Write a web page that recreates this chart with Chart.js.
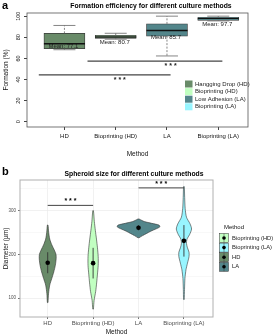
<!DOCTYPE html>
<html>
<head>
<meta charset="utf-8">
<script src="https://cdn.jsdelivr.net/npm/chart.js@4.4.0/dist/chart.umd.min.js"></script>
<style>
  html, body { margin: 0; padding: 0; background: #fff; }
  #wrap { position: relative; width: 275px; height: 336px; }
  canvas { position: absolute; left: 0; }
  #chartA { top: 0; width: 275px; height: 165px; }
  #chartB { top: 165px; width: 275px; height: 171px; }
</style>
</head>
<body>
<div id="wrap">
  <canvas id="chartA" width="275" height="165"></canvas>
  <canvas id="chartB" width="275" height="171"></canvas>
</div>
<script>
const FONT = "'Liberation Sans', Arial, sans-serif";
Chart.defaults.font.family = FONT;

const methods = ["HD", "Bioprinting (HD)", "LA", "Bioprinting (LA)"];
const colors = ["#698B69", "#C1FFC1", "#53868B", "#98F5FF"];

// panel a - box plot summary
const legendA = ["Hangging Drop (HD)", "Bioprinting (HD)", "Low Adhesion (LA)", "Bioprinting (LA)"];
const whiskerLow = [68.2, 78.2, 62.3, 95.5];
const q1 = [69.2, 79.0, 81.1, 96.0];
const median = [73.9, 80.2, 86.5, 97.5];
const q3 = [83.7, 81.8, 92.7, 99.0];
const whiskerHigh = [91.2, 83.8, 100, 100];
const meanA = [77.1, 80.7, 85.7, 97.7];
const yTicksA = [0, 20, 40, 60, 80, 100];
const sigAFrom = [0.5, 1.45];
const sigATo = [3.07, 4.08];
const sigAY = [44.3, 57.5];
const sigAStarX = [2.08, 3.07];
const sigAStarY = [40.6, 53.8];

// panel b - violin outlines (diameter, half width in category units)
const legendB = ["Bioprinting (HD)", "Bioprinting (LA)", "HD", "LA"];
const legendBColors = ["#C1FFC1", "#98F5FF", "#698B69", "#53868B"];
const violinY = [
  [90, 110, 130, 145, 160, 175, 190, 200, 210, 222, 235, 250, 267],
  [75, 95, 115, 135, 155, 175, 195, 215, 235, 255, 275, 300],
  [238, 243, 248, 253, 258, 263, 267, 271, 275, 278, 281],
  [97, 120, 145, 165, 180, 195, 205, 215, 225, 235, 245, 258, 270, 285, 305, 330, 355]
];
const violinHalfWidth = [
  [0.007, 0.018, 0.045, 0.09, 0.134, 0.168, 0.186, 0.183, 0.145, 0.09, 0.045, 0.022, 0.007],
  [0.007, 0.022, 0.056, 0.078, 0.096, 0.112, 0.112, 0.096, 0.074, 0.049, 0.027, 0.007],
  [0.011, 0.09, 0.18, 0.27, 0.38, 0.47, 0.45, 0.29, 0.13, 0.067, 0.011],
  [0.007, 0.013, 0.022, 0.045, 0.078, 0.112, 0.112, 0.078, 0.056, 0.067, 0.123, 0.168, 0.134, 0.056, 0.027, 0.016, 0.007]
];
const meanB = [181, 180, 261, 231];
const sdLow = [157, 145, 255, 195];
const sdHigh = [205, 215, 267, 267];
const yTicksB = [100, 150, 200, 250, 300, 350];
const sigBFrom = [1, 3];
const sigBTo = [2, 4];
const sigBY = [312, 352];
const sigBStarY = [324, 364];

function seg(ctx, x1, y1, x2, y2) {
  ctx.beginPath();
  ctx.moveTo(x1, y1);
  ctx.lineTo(x2, y2);
  ctx.stroke();
}

// ---------- panel a ----------
const boxPlugin = {
  id: "boxPlugin",
  afterDatasetsDraw(chart) {
    const { ctx, chartArea: a, scales: { x, y } } = chart;
    ctx.save();
    ctx.strokeStyle = "#555";
    ctx.lineWidth = 0.8;
    ctx.strokeRect(a.left, a.top, a.right - a.left, a.bottom - a.top);

    methods.forEach((m, i) => {
      const cx = x.getPixelForValue(i + 1);
      ctx.strokeStyle = "#666";
      ctx.lineWidth = 0.8;
      ctx.setLineDash([2, 1.5]);
      seg(ctx, cx, y.getPixelForValue(q3[i]), cx, y.getPixelForValue(whiskerHigh[i]));
      seg(ctx, cx, y.getPixelForValue(q1[i]), cx, y.getPixelForValue(whiskerLow[i]));
      ctx.setLineDash([]);
      seg(ctx, cx - 11, y.getPixelForValue(whiskerHigh[i]), cx + 11, y.getPixelForValue(whiskerHigh[i]));
      seg(ctx, cx - 11, y.getPixelForValue(whiskerLow[i]), cx + 11, y.getPixelForValue(whiskerLow[i]));
      ctx.strokeStyle = "#111";
      ctx.lineWidth = 1.5;
      seg(ctx, cx - 20.5, y.getPixelForValue(median[i]), cx + 20.5, y.getPixelForValue(median[i]));
    });

    // mean labels
    ctx.fillStyle = "#222";
    ctx.font = "6px " + FONT;
    ctx.textAlign = "center";
    ctx.textBaseline = "middle";
    meanA.forEach((v, i) => {
      ctx.fillText("Mean: " + v, x.getPixelForValue(i + 1) - 1, y.getPixelForValue(v) + 6);
    });

    // significance bars
    ctx.strokeStyle = "#444";
    ctx.lineWidth = 1.3;
    sigAY.forEach((v, i) => {
      seg(ctx, x.getPixelForValue(sigAFrom[i]), y.getPixelForValue(v), x.getPixelForValue(sigATo[i]), y.getPixelForValue(v));
      ctx.font = "bold 7px " + FONT;
      ctx.fillStyle = "#222";
      ctx.fillText("* * *", x.getPixelForValue(sigAStarX[i]), y.getPixelForValue(sigAStarY[i]) + 1);
    });

    // legend
    ctx.font = "6px " + FONT;
    ctx.textAlign = "left";
    legendA.forEach((t, i) => {
      const ly = 84 + i * 7.6;
      ctx.fillStyle = colors[i];
      ctx.fillRect(185, ly - 3.5, 7.5, 7);
      ctx.fillStyle = "#222";
      ctx.fillText(t, 195, ly);
    });

    // title
    ctx.font = "bold 6.8px " + FONT;
    ctx.textAlign = "center";
    ctx.fillStyle = "#000";
    ctx.fillText("Formation efficiency for different culture methods", 151, 6);
    ctx.font = "bold 11px " + FONT;
    ctx.textAlign = "left";
    ctx.fillText("a", 2, 6);
    ctx.restore();
  }
};

new Chart(document.getElementById("chartA"), {
  type: "bar",
  data: {
    datasets: [
      {
        data: methods.map((m, i) => ({ x: i + 1, y: [q1[i], q3[i]] })),
        backgroundColor: colors,
        borderColor: "#3a3a3a",
        borderWidth: 0.8,
        borderSkipped: false,
        barThickness: 41
      },
      {
        type: "scatter",
        data: meanA.map((v, i) => ({ x: i + 1, y: v })),
        pointRadius: 1.3,
        backgroundColor: "#000",
        borderWidth: 0
      }
    ]
  },
  options: {
    responsive: false,
    animation: false,
    layout: { padding: { top: 13, right: 27, left: 0, bottom: 7 } },
    plugins: { legend: { display: false }, tooltip: { enabled: false } },
    scales: {
      x: {
        type: "linear",
        offset: false,
        min: 0.27,
        max: 4.58,
        afterBuildTicks: (s) => { s.ticks = [1, 2, 3, 4].map((v) => ({ value: v })); },
        afterFit: (s) => { s.height = 31; },
        ticks: { callback: (v) => methods[v - 1], font: { size: 6 }, color: "#111", padding: 3, maxRotation: 0, autoSkip: false },
        grid: { offset: false, drawOnChartArea: false, tickLength: 3, color: "#444" },
        border: { display: false },
        title: { display: true, text: "Method", font: { size: 6.5 }, color: "#111", padding: 0 }
      },
      y: {
        min: -5,
        max: 103,
        afterBuildTicks: (s) => { s.ticks = yTicksA.map((v) => ({ value: v })); },
        afterFit: (s) => { s.width = 27; },
        ticks: { minRotation: 90, maxRotation: 90, crossAlign: "center", font: { size: 5.5 }, color: "#111", padding: 1 },
        grid: { drawOnChartArea: false, tickLength: 3, color: "#444" },
        border: { display: false },
        title: { display: true, text: "Formation (%)", font: { size: 6.5 }, color: "#111", padding: { top: 2, bottom: 0 } }
      }
    }
  },
  plugins: [boxPlugin]
});

// ---------- panel b ----------
const violinPlugin = {
  id: "violinPlugin",
  beforeDatasetsDraw(chart) {
    const { ctx, chartArea: a } = chart;
    ctx.save();
    ctx.strokeStyle = "#b0b0b0";
    ctx.lineWidth = 1;
    ctx.strokeRect(a.left, a.top, a.right - a.left, a.bottom - a.top);
    ctx.restore();
  },
  afterDatasetsDraw(chart) {
    const { ctx, scales: { x, y } } = chart;
    ctx.save();
    // mean +/- sd ranges
    ctx.strokeStyle = "#333";
    ctx.lineWidth = 0.9;
    meanB.forEach((v, i) => {
      const cx = x.getPixelForValue(i + 1);
      seg(ctx, cx, y.getPixelForValue(sdLow[i]), cx, y.getPixelForValue(sdHigh[i]));
    });
    ctx.fillStyle = "#000";
    meanB.forEach((v, i) => {
      ctx.beginPath();
      ctx.arc(x.getPixelForValue(i + 1), y.getPixelForValue(v), 2.3, 0, Math.PI * 2);
      ctx.fill();
    });

    // significance bars
    ctx.strokeStyle = "#444";
    ctx.lineWidth = 1;
    ctx.font = "bold 7px " + FONT;
    ctx.textAlign = "center";
    ctx.textBaseline = "middle";
    sigBY.forEach((v, i) => {
      seg(ctx, x.getPixelForValue(sigBFrom[i]), y.getPixelForValue(v), x.getPixelForValue(sigBTo[i]), y.getPixelForValue(v));
      ctx.fillText("* * *", x.getPixelForValue((sigBFrom[i] + sigBTo[i]) / 2), y.getPixelForValue(sigBStarY[i]) + 1);
    });

    // legend
    ctx.textAlign = "left";
    ctx.font = "6px " + FONT;
    ctx.fillStyle = "#111";
    ctx.fillText("Method", 224, 62);
    ctx.font = "5.8px " + FONT;
    legendB.forEach((t, i) => {
      const ly = 73 + i * 9.6;
      ctx.fillStyle = legendBColors[i];
      ctx.fillRect(219.5, ly - 4.5, 9, 9);
      ctx.strokeStyle = "#333";
      ctx.lineWidth = 0.5;
      ctx.strokeRect(219.5, ly - 4.5, 9, 9);
      seg(ctx, 224, ly - 4.5, 224, ly + 4.5);
      ctx.fillStyle = "#000";
      ctx.beginPath();
      ctx.arc(224, ly, 1.8, 0, Math.PI * 2);
      ctx.fill();
      ctx.fillStyle = "#222";
      ctx.fillText(t, 232, ly);
    });

    // title
    ctx.fillStyle = "#000";
    ctx.font = "bold 6.8px " + FONT;
    ctx.textAlign = "center";
    ctx.fillText("Spheroid size for different culture methods", 134, 9);
    ctx.font = "bold 11px " + FONT;
    ctx.textAlign = "left";
    ctx.fillText("b", 2, 7);
    ctx.restore();
  }
};

function violinOutline(i) {
  const cx = i + 1;
  const ys = violinY[i];
  const ws = violinHalfWidth[i];
  const pts = [];
  ys.forEach((v, k) => pts.push({ x: cx + ws[k], y: v }));
  for (let k = ys.length - 1; k >= 0; k--) pts.push({ x: cx - ws[k], y: ys[k] });
  pts.push(pts[0]);
  return pts;
}

new Chart(document.getElementById("chartB"), {
  type: "scatter",
  data: {
    datasets: methods.map((m, i) => ({
      label: m,
      data: violinOutline(i),
      showLine: true,
      fill: "shape",
      tension: 0.25,
      pointRadius: 0,
      borderColor: "#333",
      borderWidth: 0.6,
      backgroundColor: colors[i]
    }))
  },
  options: {
    responsive: false,
    animation: false,
    layout: { padding: { top: 15, right: 62, left: 0, bottom: 0 } },
    plugins: { legend: { display: false }, tooltip: { enabled: false } },
    scales: {
      x: {
        type: "linear",
        min: 0.39,
        max: 4.64,
        afterBuildTicks: (s) => { s.ticks = [1, 2, 3, 4].map((v) => ({ value: v })); },
        afterFit: (s) => { s.height = 19; },
        ticks: { callback: (v) => methods[v - 1], font: { size: 6 }, color: "#4d4d4d", padding: 1, maxRotation: 0, autoSkip: false },
        grid: { color: "#ebebeb", lineWidth: 0.7, tickLength: 2, tickColor: "#333" },
        border: { display: false },
        title: { display: true, text: "Method", font: { size: 6.5 }, color: "#111", padding: 0 }
      },
      y: {
        min: 57,
        max: 370,
        afterBuildTicks: (s) => { s.ticks = yTicksB.map((v) => ({ value: v })); },
        afterFit: (s) => { s.width = 20; },
        ticks: { callback: (v) => (v % 100 === 0 ? v : ""), font: { size: 4.5 }, color: "#4d4d4d", padding: 2 },
        grid: {
          color: (c) => (c.tick && c.tick.value % 100 === 0 ? "#ebebeb" : "#f5f5f5"),
          tickColor: (c) => (c.tick && c.tick.value % 100 === 0 ? "#333" : "rgba(0,0,0,0)"),
          lineWidth: 0.7,
          tickLength: 2
        },
        border: { display: false },
        title: { display: true, text: "Diameter (µm)", font: { size: 6.5 }, color: "#111", padding: { top: 2, bottom: 0 } }
      }
    }
  },
  plugins: [violinPlugin]
});
</script>
</body>
</html>
